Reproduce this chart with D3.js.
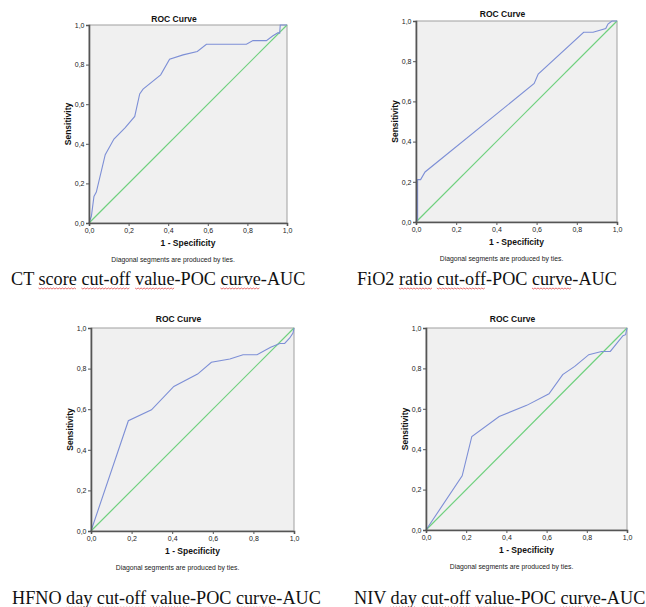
<!DOCTYPE html>
<html>
<head>
<meta charset="utf-8">
<script src="https://cdn.jsdelivr.net/npm/d3@7"></script>
<style>
  body { margin: 0; background: #fff; }
  svg { display: block; }
  .tick text { font-family: "Liberation Sans", Arial, sans-serif; font-size: 7px; fill: #222; }
  .title, .axis-title { font-family: "Liberation Sans", Arial, sans-serif; font-weight: bold; font-size: 8.5px; fill: #111; }
  .note { font-family: "Liberation Sans", Arial, sans-serif; font-size: 6.8px; fill: #222; }
  .caption { font-family: "Liberation Serif", "Times New Roman", serif; font-size: 18.2px; fill: #111; }
</style>
</head>
<body>
<svg id="chart"></svg>
<script>
// ROC points (1 - specificity, sensitivity)
const ctFpr = [0, 0.012, 0.025, 0.037, 0.082, 0.126, 0.183, 0.231, 0.256, 0.273, 0.362, 0.407, 0.475, 0.547, 0.593, 0.744, 0.795, 0.828, 0.896, 0.929, 0.955, 0.963, 0.966, 1];
const ctTpr = [0, 0.034, 0.134, 0.156, 0.345, 0.424, 0.482, 0.538, 0.652, 0.676, 0.748, 0.827, 0.849, 0.866, 0.903, 0.903, 0.903, 0.921, 0.921, 0.946, 0.961, 0.958, 1, 1];

const fioFpr = [0, 0.008, 0.008, 0.023, 0.045, 0.588, 0.608, 0.834, 0.881, 0.944, 0.955, 0.975, 1];
const fioTpr = [0, 0.01, 0.211, 0.211, 0.249, 0.689, 0.736, 0.944, 0.944, 0.963, 0.985, 1, 1];

const hfnoFpr = [0, 0.184, 0.298, 0.408, 0.525, 0.593, 0.684, 0.749, 0.818, 0.885, 0.93, 0.954, 0.979, 0.995, 1];
const hfnoTpr = [0, 0.543, 0.597, 0.712, 0.773, 0.831, 0.847, 0.868, 0.868, 0.905, 0.924, 0.924, 0.951, 0.975, 1];

const nivFpr = [0, 0.18, 0.228, 0.364, 0.501, 0.612, 0.68, 0.74, 0.81, 0.873, 0.917, 0.98, 0.993, 1];
const nivTpr = [0, 0.268, 0.463, 0.562, 0.617, 0.674, 0.769, 0.81, 0.868, 0.884, 0.884, 0.962, 0.967, 1];

const diagonal = [0, 1];
const tickValues = [0, 0.2, 0.4, 0.6, 0.8, 1.0];
const chartTitle = "ROC Curve";
const xTitle = "1 - Specificity";
const yTitle = "Sensitivity";
const noteText = "Diagonal segments are produced by ties.";

// caption words; flagged words get the red spell-check squiggle
const captions = [
  [["CT", 0], ["score", 1], ["cut-off", 1], ["value", 1], ["-POC", 0], ["curve", 1], ["-AUC", 0]],
  [["FiO2", 0], ["ratio", 1], ["cut-off", 1], ["-POC", 0], ["curve", 1], ["-AUC", 0]],
  [["HFNO", 0], ["day", 1], ["cut-off", 1], ["value", 1], ["-POC", 0], ["curve", 1], ["-AUC", 0]],
  [["NIV", 0], ["day", 1], ["cut-off", 1], ["value", 1], ["-POC", 0], ["curve", 1], ["-AUC", 0]]
];

// panel boxes in page pixels
const panels = [
  {fpr: ctFpr, tpr: ctTpr, x0: 89, x1: 287, y0: 25, y1: 223, capX: 11, capY: 285, cap: 0, titleGap: 3.5},
  {fpr: fioFpr, tpr: fioTpr, x0: 416, x1: 617, y0: 21, y1: 222, capX: 357, capY: 285, cap: 1, titleGap: 4},
  {fpr: hfnoFpr, tpr: hfnoTpr, x0: 91, x1: 294, y0: 328, y1: 531, capX: 12, capY: 604, cap: 2, titleGap: 6},
  {fpr: nivFpr, tpr: nivTpr, x0: 426, x1: 627, y0: 328, y1: 530, capX: 354, capY: 604, cap: 3, titleGap: 6}
];

const svg = d3.select("#chart").attr("width", 646).attr("height", 607);
const fmt = d => d3.format(".1f")(d).replace(".", ",");

panels.forEach(p => {
  const x = d3.scaleLinear().domain([0, 1]).range([p.x0, p.x1]);
  const y = d3.scaleLinear().domain([0, 1]).range([p.y1, p.y0]);
  const g = svg.append("g");

  g.append("rect")
    .attr("x", p.x0).attr("y", p.y0)
    .attr("width", p.x1 - p.x0).attr("height", p.y1 - p.y0)
    .attr("fill", "#f0f0f0")
    .attr("stroke", "#a0a0a0").attr("stroke-width", 1);

  // reference diagonal
  g.append("path")
    .attr("d", d3.line().x(d => x(d)).y(d => y(d))(diagonal))
    .attr("fill", "none")
    .attr("stroke", "#6fd07e").attr("stroke-width", 1.2)
    .attr("shape-rendering", "geometricPrecision");

  const line = d3.line().x(d => x(d)).y((d, i) => y(p.tpr[i]));
  g.append("path")
    .attr("d", line(p.fpr))
    .attr("fill", "none")
    .attr("stroke", "#7d8fd6").attr("stroke-width", 1.1);

  const xAxis = g.append("g")
    .attr("transform", `translate(0,${p.y1})`)
    .call(d3.axisBottom(x).tickValues(tickValues).tickFormat(fmt).tickSize(3).tickPadding(2));
  const yAxis = g.append("g")
    .attr("transform", `translate(${p.x0},0)`)
    .call(d3.axisLeft(y).tickValues(tickValues).tickFormat(fmt).tickSize(3).tickPadding(1.5));
  [xAxis, yAxis].forEach(a => {
    a.select(".domain").attr("stroke", "#555").attr("stroke-width", 1.6);
    a.selectAll(".tick line").attr("stroke", "#555");
  });

  const cx = (p.x0 + p.x1) / 2;
  const cy = (p.y0 + p.y1) / 2;

  g.append("text").attr("class", "title")
    .attr("x", cx - 14).attr("y", p.y0 - p.titleGap)
    .attr("text-anchor", "middle").text(chartTitle);

  g.append("text").attr("class", "axis-title")
    .attr("x", cx).attr("y", p.y1 + 23)
    .attr("text-anchor", "middle").text(xTitle);

  g.append("text").attr("class", "axis-title")
    .attr("transform", `translate(${p.x0 - 18},${cy}) rotate(-90)`)
    .attr("text-anchor", "middle").text(yTitle);

  g.append("text").attr("class", "note")
    .attr("x", cx - 15).attr("y", p.y1 + 39)
    .attr("text-anchor", "middle").text(noteText);

  // caption under the panel
  const words = captions[p.cap];
  const cap = svg.append("text").attr("class", "caption")
    .attr("x", p.capX).attr("y", p.capY);
  let full = "";
  const spans = [];
  words.forEach(([w, flag], i) => {
    const sep = (i > 0 && !w.startsWith("-")) ? " " : "";
    spans.push({start: full.length + sep.length, len: w.length, flag});
    full += sep + w;
  });
  cap.text(full);
  const node = cap.node();
  spans.filter(s => s.flag).forEach(s => {
    const sx = p.capX + node.getSubStringLength(0, s.start);
    const w = node.getSubStringLength(s.start, s.len);
    const pts = d3.range(0, Math.floor(w / 1.5) + 1).map(k => [sx + k * 1.5, p.capY + 3 + (k % 2 ? 1 : 0)]);
    svg.append("path")
      .attr("d", d3.line()(pts))
      .attr("fill", "none").attr("stroke", "#e03030").attr("stroke-width", 0.7);
  });
});
</script>
</body>
</html>
